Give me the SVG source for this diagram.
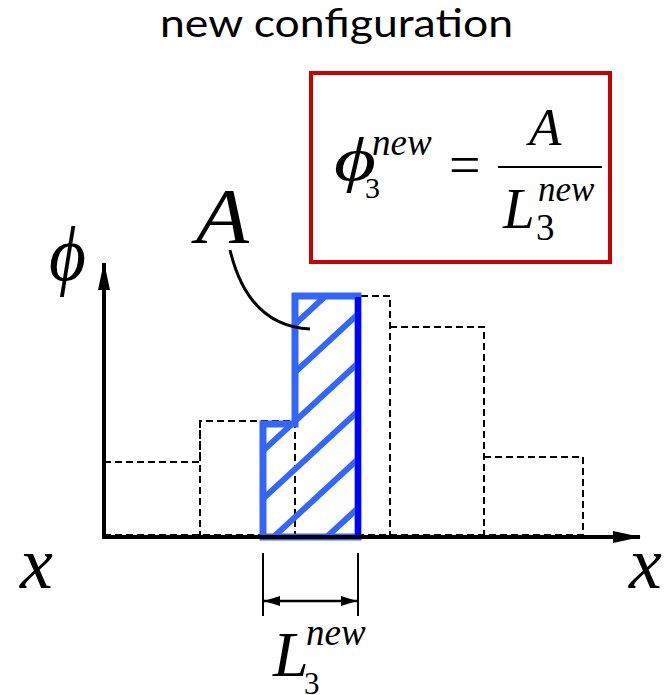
<svg xmlns="http://www.w3.org/2000/svg" width="668" height="695" viewBox="0 0 668 695">
<defs>
<style>
.it{font-family:"Liberation Serif","Times New Roman",serif;font-style:italic;fill:#000}
.up{font-family:"Liberation Serif","Times New Roman",serif;fill:#000}
.dash{fill:none;stroke:#000;stroke-width:2;stroke-dasharray:7,4}
.hatch{stroke:#3366FF;stroke-width:6}
</style>
<clipPath id="shape"><polygon points="263,424 295,424 295,296 358,296 358,537 263,537"/></clipPath>
<marker id="axh" viewBox="0 0 28 12" refX="27" refY="6" markerWidth="28" markerHeight="12" orient="auto" markerUnits="userSpaceOnUse"><path d="M0,0 L28,6 L0,12 z" fill="#000"/></marker>
<marker id="ah" viewBox="0 0 16 10" refX="16" refY="5" markerWidth="16" markerHeight="10" orient="auto-start-reverse" markerUnits="userSpaceOnUse"><path d="M0,0 L16,5 L0,10 z" fill="#000"/></marker>
</defs>
<rect width="668" height="695" fill="#fff"/>
<text x="160" y="37" font-family="Lato, 'Open Sans', sans-serif" font-size="38" textLength="353" lengthAdjust="spacingAndGlyphs">new configuration</text>

<g id="formula">
<rect x="311" y="73" width="299" height="189" fill="none" stroke="#CC0000" stroke-width="4"/>
<text class="it" x="334" y="180" font-size="62" textLength="42" lengthAdjust="spacingAndGlyphs">ϕ</text>
<text class="it" x="372" y="155" font-size="37">new</text>
<text class="up" x="365" y="198" font-size="30">3</text>
<text class="up" x="449" y="184" font-size="56">=</text>
<line x1="498" y1="167" x2="602" y2="167" stroke="#000" stroke-width="2"/>
<text class="it" x="529" y="145" font-size="53">A</text>
<text class="it" x="503" y="228" font-size="57">L</text>
<text class="it" x="538" y="201" font-size="35">new</text>
<text class="up" x="536" y="240" font-size="37">3</text>
</g>

<g id="old-config">
<path class="dash" d="M104,462 H200 V421 H295 M295,421 V537 M200,421 V537 M295,296 H390 V537 M390,327 H484 V537 M484,457 H583 V537 M104,535 H583"/>
</g>

<g id="new-cell">
<g clip-path="url(#shape)">
<line class="hatch" x1="240" y1="375" x2="370" y2="255"/>
<line class="hatch" x1="240" y1="423" x2="370" y2="303"/>
<line class="hatch" x1="240" y1="472" x2="370" y2="352"/>
<line class="hatch" x1="240" y1="520" x2="370" y2="400"/>
<line class="hatch" x1="240" y1="568" x2="370" y2="448"/>
<line class="hatch" x1="240" y1="617" x2="370" y2="497"/>
</g>
<polygon points="263,424 295,424 295,296 358,296 358,537 263,537" fill="none" stroke="#3366FF" stroke-width="7"/>
<line x1="358" y1="297" x2="358" y2="537" stroke="#0000FF" stroke-width="6"/>
</g>

<g id="axes">
<line x1="104" y1="538" x2="104" y2="263" stroke="#000" stroke-width="4" marker-end="url(#axh)"/>
<line x1="102" y1="537" x2="640" y2="537" stroke="#000" stroke-width="4" marker-end="url(#axh)"/>
<text class="it" x="49" y="280" font-size="78" textLength="37" lengthAdjust="spacingAndGlyphs">ϕ</text>
<text class="it" x="20" y="588" font-size="74">x</text>
<text class="it" x="629" y="588" font-size="74">x</text>
</g>

<g id="label-A">
<text class="it" x="196" y="242" font-size="78" textLength="53" lengthAdjust="spacingAndGlyphs">A</text>
<path d="M230,250 C242,300 268,327 310,329" fill="none" stroke="#000" stroke-width="3"/>
</g>

<g id="connectors">
<line x1="263" y1="553" x2="263" y2="616" stroke="#000" stroke-width="2"/>
<line x1="358" y1="553" x2="358" y2="616" stroke="#000" stroke-width="2"/>
<line x1="264" y1="601" x2="357" y2="601" stroke="#000" stroke-width="2.5" marker-start="url(#ah)" marker-end="url(#ah)"/>
</g>

<g id="label-L">
<text class="it" x="273" y="676" font-size="64">L</text>
<text class="it" x="306" y="645" font-size="37">new</text>
<text class="up" x="304" y="694" font-size="31">3</text>
</g>
</svg>
